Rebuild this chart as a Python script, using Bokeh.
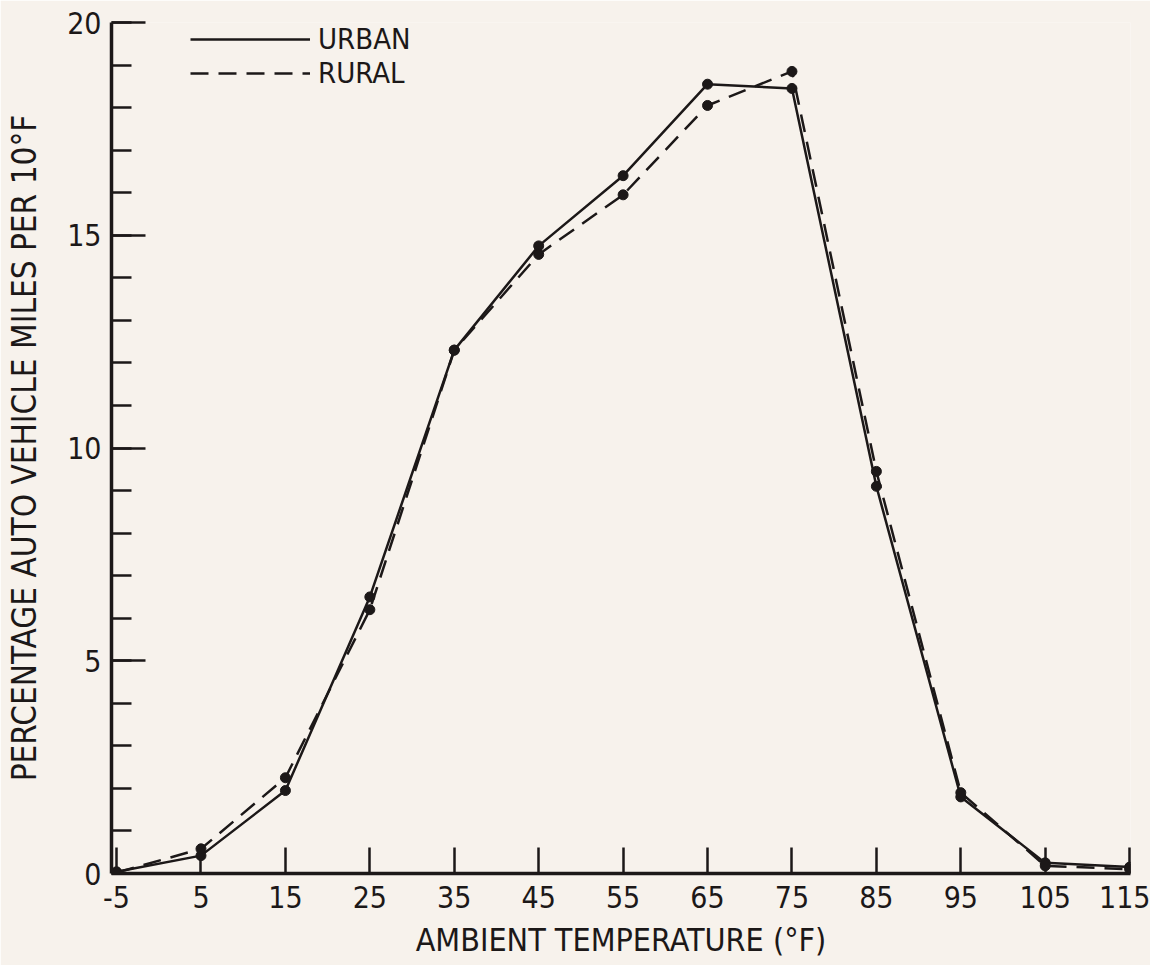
from bokeh.plotting import figure
from bokeh.models import (Range1d, FixedTicker, SingleIntervalTicker, Legend, LegendItem)
from bokeh.embed import file_html
from bokeh.resources import INLINE

# ---- data ----
temps = [-5, 5, 15, 25, 35, 45, 55, 65, 75, 85, 95, 105, 115]
urban = [0.04, 0.42, 1.95, 6.5, 12.3, 14.75, 16.4, 18.55, 18.45, 9.1, 1.8, 0.25, 0.15]
rural = [0.02, 0.58, 2.25, 6.2, 12.3, 14.55, 15.95, 18.05, 18.85, 9.45, 1.9, 0.18, 0.1]
x_ticks = [-5, 5, 15, 25, 35, 45, 55, 65, 75, 85, 95, 105, 115]
x_title = "AMBIENT TEMPERATURE (°F)"
y_title = "PERCENTAGE AUTO VEHICLE MILES PER 10°F"
series_names = ["URBAN", "RURAL"]

FONT = "DejaVu Sans Condensed"
INK = "#1c1818"
BG = "#f7f2ec"

p = figure(width=1150, height=965, output_backend="svg", toolbar_location=None,
           x_range=Range1d(-5.6, 115.1), y_range=Range1d(0, 20),
           min_border_left=111, min_border_right=20, min_border_top=22,
           min_border_bottom=92)
p.background_fill_color = BG
p.border_fill_color = BG
p.outline_line_color = None
p.grid.grid_line_color = None

# x axis
xa = p.xaxis[0]
xa.ticker = FixedTicker(ticks=x_ticks)
xa.major_label_overrides = {t: str(t) for t in x_ticks}
xa.axis_line_width = 3.5
xa.axis_line_color = INK
xa.major_tick_in = 26
xa.major_tick_out = 0
xa.major_tick_line_width = 2.5
xa.major_tick_line_color = INK
xa.minor_tick_line_color = None
xa.major_label_text_font = FONT
xa.major_label_text_font_size = "30px"
xa.major_label_text_color = INK
xa.major_label_standoff = 12
xa.axis_label = x_title
xa.axis_label_text_font = FONT
xa.axis_label_text_font_size = "32px"
xa.axis_label_text_font_style = "normal"
xa.axis_label_text_color = INK
xa.axis_label_standoff = 10

# y axis
ya = p.yaxis[0]
ya.ticker = SingleIntervalTicker(interval=5, num_minor_ticks=5)
ya.axis_line_width = 3.5
ya.axis_line_color = INK
ya.major_tick_in = 34
ya.major_tick_out = 0
ya.major_tick_line_width = 2.5
ya.major_tick_line_color = INK
ya.minor_tick_in = 20
ya.minor_tick_out = 0
ya.minor_tick_line_width = 2.5
ya.minor_tick_line_color = INK
ya.major_label_text_font = FONT
ya.major_label_text_font_size = "30px"
ya.major_label_text_color = INK
ya.major_label_standoff = 10
ya.axis_label = y_title
ya.axis_label_text_font = FONT
ya.axis_label_text_font_size = "33px"
ya.axis_label_text_font_style = "normal"
ya.axis_label_text_color = INK
ya.axis_label_standoff = 20

# series
l_urban = p.line(temps, urban, line_color=INK, line_width=2.5)
p.scatter(temps, urban, size=10, fill_color=INK, line_color=INK)
l_rural = p.line(temps, rural, line_color=INK, line_width=2.5, line_dash="18 10")
p.scatter(temps, rural, size=10, fill_color=INK, line_color=INK)

legend = Legend(items=[LegendItem(label=series_names[0], renderers=[l_urban]),
                       LegendItem(label=series_names[1], renderers=[l_rural])],
                location=(79, 783), glyph_width=120, glyph_height=30,
                label_height=30, spacing=-5, padding=0, margin=0, label_standoff=8,
                background_fill_alpha=0, border_line_alpha=0,
                label_text_font=FONT, label_text_font_size="29px",
                label_text_color=INK)
p.add_layout(legend)

open("out.html", "w").write(file_html(p, INLINE))
